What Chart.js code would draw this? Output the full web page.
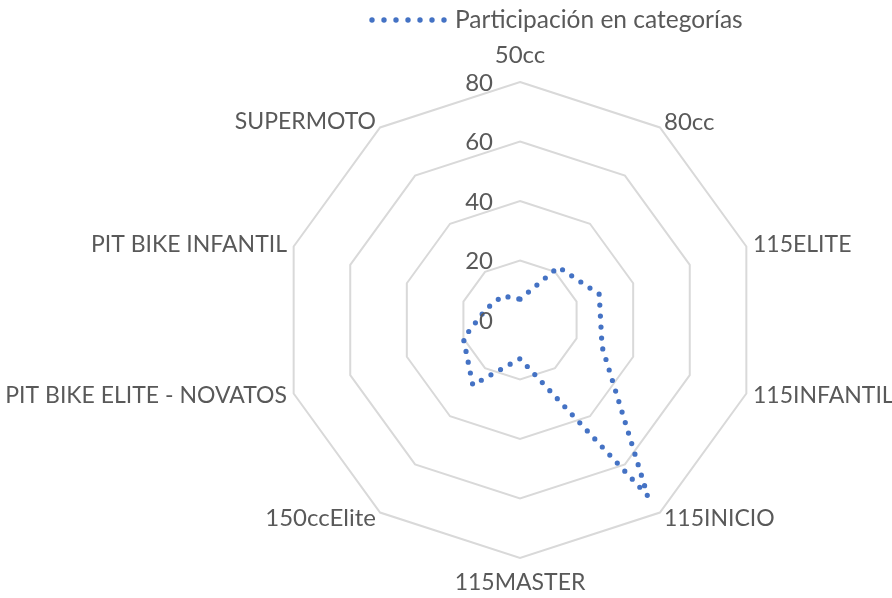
<!DOCTYPE html>
<html>
<head>
<meta charset="utf-8">
<script src="https://cdn.jsdelivr.net/npm/chart.js@4.4.1/dist/chart.umd.min.js"></script>
<style>
  html, body { margin: 0; padding: 0; background: #ffffff; }
  #wrap { width: 892px; height: 598px; position: relative; }
</style>
</head>
<body>
<div id="wrap"><canvas id="c" width="892" height="598"></canvas></div>
<script>
const categories = ["50cc", "80cc", "115ELITE", "115INFANTIL", "115INICIO", "115MASTER", "150ccElite", "PIT BIKE ELITE - NOVATOS", "PIT BIKE INFANTIL", "SUPERMOTO"];
const participacion = [7, 22, 28, 29, 73, 13, 27, 20, 12, 10];
const seriesName = "Participación en categorías";
const tickValues = [0, 20, 40, 60, 80];

const FONT = "Lato, 'Open Sans', sans-serif";
const TEXT_COLOR = "#595959";
const LINE_COLOR = "#4472C4";

const layoutPlugin = {
  id: 'excelRadar',
  afterDraw(chart) {
    const ctx = chart.ctx;
    const r = chart.scales.r;
    ctx.save();
    ctx.fillStyle = TEXT_COLOR;
    ctx.font = "24px " + FONT;
    // tick labels
    ctx.textAlign = 'right';
    ctx.textBaseline = 'middle';
    tickValues.forEach(v => {
      const d = r.getDistanceFromCenterForValue(v);
      ctx.fillText(String(v), r.xCenter - 27, r.yCenter - d + 1);
    });
    // point labels
    const n = chart.data.labels.length;
    for (let i = 0; i < n; i++) {
      const lbl = chart.data.labels[i];
      ctx.font = (lbl === lbl.toUpperCase() && /[A-Z]{3}/.test(lbl) ? "23px " : "24px ") + FONT;
      const base = r.getPointPosition(i, r.drawingArea);
      const p = r.getPointPosition(i, r.drawingArea + 7);
      const dx = base.x - r.xCenter;
      const dy = base.y - r.yCenter;
      let x = p.x, y = p.y;
      if (Math.abs(dx) < 1) {
        ctx.textAlign = 'center';
        y = dy < 0 ? base.y - 27 : base.y + 25;
      } else if (dx > 0) {
        ctx.textAlign = 'left';
      } else {
        ctx.textAlign = 'right';
      }
      ctx.fillText(lbl, x, y);
    }
    // legend
    const ds = chart.data.datasets[0];
    ctx.font = "24.5px " + FONT;
    ctx.textAlign = 'left';
    ctx.fillStyle = TEXT_COLOR;
    ctx.fillText(ds.label, 455, 20);
    ctx.fillStyle = ds.borderColor;
    for (let k = 0; k < 7; k++) {
      ctx.beginPath();
      ctx.arc(372 + k * 12, 20, 2.7, 0, Math.PI * 2);
      ctx.fill();
    }
    ctx.restore();
  }
};

new Chart(document.getElementById('c'), {
  type: 'radar',
  data: {
    labels: categories,
    datasets: [{
      label: seriesName,
      data: participacion,
      borderColor: LINE_COLOR,
      backgroundColor: 'rgba(0,0,0,0)',
      borderWidth: 5.2,
      borderDash: [0, 11],
      borderCapStyle: 'round',
      borderJoinStyle: 'round',
      fill: false,
      pointRadius: 0,
      pointHoverRadius: 0,
      tension: 0,
      clip: false
    }]
  },
  options: {
    responsive: false,
    animation: false,
    plugins: {
      legend: { display: false },
      tooltip: { enabled: false }
    },
    scales: {
      r: {
        min: 0,
        max: 80,
        beginAtZero: true,
        ticks: { display: false, stepSize: 20 },
        grid: { color: '#d9d9d9', lineWidth: 2 },
        angleLines: { display: false },
        pointLabels: { display: false },
        afterFit(scale) {
          scale.xCenter = 520;
          scale.yCenter = 320;
          scale.drawingArea = 238;
        }
      }
    }
  },
  plugins: [layoutPlugin]
});
</script>
</body>
</html>
